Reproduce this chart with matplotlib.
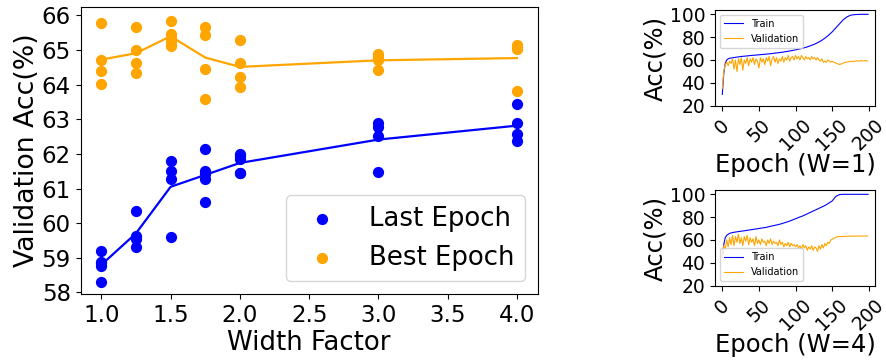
import numpy as np
import matplotlib
matplotlib.use("Agg")
from matplotlib import pyplot as plt

# --- left plot: accuracy vs width factor (several runs per width) ---
widths = [1.0, 1.25, 1.5, 1.75, 2.0, 3.0, 4.0]

last_runs = [
  [59.20, 58.88, 58.85, 58.76, 58.29],
  [60.35, 59.63, 59.54, 59.30],
  [61.80, 61.51, 61.29, 59.60],
  [62.14, 61.52, 61.42, 61.28, 60.61],
  [62.01, 61.93, 61.84, 61.46, 61.46],
  [62.89, 62.78, 62.51, 61.48],
  [63.43, 62.88, 62.59, 62.37],
]
best_runs = [
  [65.77, 64.71, 64.40, 64.02],
  [65.68, 64.99, 64.64, 64.33],
  [65.85, 65.46, 65.36, 65.22, 65.11],
  [65.66, 65.43, 64.45, 63.60],
  [65.29, 64.62, 64.23, 63.92],
  [64.89, 64.80, 64.70, 64.43],
  [65.15, 65.08, 65.04, 63.81],
]

# --- right plots: training curves ---
train_ep = [0, 2, 4, 6, 8, 10, 15, 20, 25, 30, 35, 40, 45, 50, 55, 60, 65, 70,
            75, 80, 85, 90, 95, 100, 105, 110, 115, 120, 125, 130, 135, 140,
            145, 150, 155, 160, 165, 170, 175, 180, 185, 190, 195, 199]
train_w1 = [30, 48, 57, 60, 61, 61.5, 62, 62.5, 63, 63.3, 63.6, 64, 64.2, 64.5,
            64.8, 65.1, 65.4, 65.8, 66.2, 66.6, 67.1, 67.6, 68.2, 68.8, 69.5,
            70.3, 71.2, 72.3, 73.5, 75, 76.8, 79, 81.5, 84.5, 88, 91.5, 95,
            97.5, 99, 99.5, 99.7, 99.8, 99.8, 99.8]
train_w4 = [45, 56, 62, 64, 65, 65.8, 66.6, 67.1, 67.6, 68, 68.5, 69, 69.5, 70,
            70.5, 71, 71.8, 72.5, 73.2, 74, 75, 76, 77.2, 78.5, 79.8, 81, 82.5,
            84, 85.5, 87, 88.5, 90, 92, 94, 98, 99.6, 99.8, 99.8, 99.8, 99.8,
            99.8, 99.8, 99.8, 99.8]

val_ep = list(range(0, 200, 2))
val_w1 = [35, 50, 56, 58, 55, 59, 57, 61, 52, 60, 50, 61, 56, 62, 51, 60, 57,
          62, 55, 61, 58, 62, 56, 61, 59, 53, 62, 58, 61, 56, 62, 59, 63, 55,
          61, 63, 58, 62, 57, 61, 59, 63, 58, 62, 60, 64, 59, 62, 63, 60, 64,
          61, 63, 60, 64, 62, 60, 63, 61, 62, 60, 63, 61, 62, 60, 62, 60, 59,
          61, 58, 59, 58, 60, 59, 58, 59, 58, 57.5, 57, 56.5, 56, 56.5, 57,
          57.5, 58, 58, 58.5, 58.5, 59, 58.5, 59, 59, 59.3, 59, 59.2, 59.5,
          59.2, 59.3, 59.5, 59]
val_w4 = [45, 55, 52, 60, 54, 62, 56, 64, 55, 63, 58, 65, 57, 62, 55, 63, 59,
          64, 56, 62, 58, 61, 55, 63, 57, 60, 56, 61, 58, 59, 55, 60, 57, 61,
          56, 59, 57, 58, 55, 60, 56, 58, 54, 57, 55, 58, 54, 57, 55, 56, 54,
          56, 53, 55, 52, 56, 53, 55, 51, 54, 52, 55, 51, 54, 53, 50, 55, 52,
          56, 53, 57, 55, 58, 57, 60, 60.5, 61.5, 62, 62.5, 63, 63, 63, 63.1,
          63.1, 63.2, 63.2, 63.2, 63.3, 63.3, 63.3, 63.3, 63.4, 63.4, 63.4,
          63.4, 63.4, 63.5, 63.5, 63.5, 63.5]

fig = plt.figure(figsize=(8.86, 3.6), dpi=100)

ax = fig.add_axes([0.0909, 0.183, 0.516, 0.798])
for i, w in enumerate(widths):
  lbl = "Last Epoch" if i == 0 else None
  ax.scatter([w] * len(last_runs[i]), last_runs[i], s=50, color="blue", label=lbl, zorder=3)
for i, w in enumerate(widths):
  lbl = "Best Epoch" if i == 0 else None
  ax.scatter([w] * len(best_runs[i]), best_runs[i], s=50, color="orange", label=lbl, zorder=3)
ax.plot(widths, [np.mean(r) for r in last_runs], color="blue", lw=1.6)
ax.plot(widths, [np.mean(r) for r in best_runs], color="orange", lw=1.6)
ax.set_xlim(0.85, 4.15)
ax.set_ylim(57.95, 66.25)
ax.set_yticks(range(58, 67))
ax.set_xticks([1.0, 1.5, 2.0, 2.5, 3.0, 3.5, 4.0])
ax.tick_params(labelsize=16.5)
ax.set_xlabel("Width Factor", fontsize=18.7, labelpad=2)
ax.set_ylabel("Validation Acc(%)", fontsize=19.3, labelpad=1)
ax.legend(loc="lower right", fontsize=18.7)

def small_plot(rect, tr, va, xlab, loc):
  a = fig.add_axes(rect)
  a.plot(train_ep, tr, color="blue", lw=0.8, label="Train")
  a.plot(val_ep, va, color="orange", lw=0.8, label="Validation")
  a.set_ylim(20, 103.5)
  a.set_yticks([20, 40, 60, 80, 100])
  a.set_xticks([0, 50, 100, 150, 200])
  a.tick_params(labelsize=13.5)
  plt.setp(a.get_xticklabels(), rotation=45)
  a.set_xlabel(xlab, fontsize=17.5, labelpad=-1)
  a.set_ylabel("Acc(%)", fontsize=17.5, labelpad=2)
  a.legend(loc=loc, fontsize=7)
  return a

small_plot([0.807, 0.706, 0.181, 0.266], train_w1, val_w1, "Epoch (W=1)", "upper left")
small_plot([0.807, 0.206, 0.181, 0.266], train_w4, val_w4, "Epoch (W=4)", "lower left")

fig.savefig("out.png", dpi=100)
